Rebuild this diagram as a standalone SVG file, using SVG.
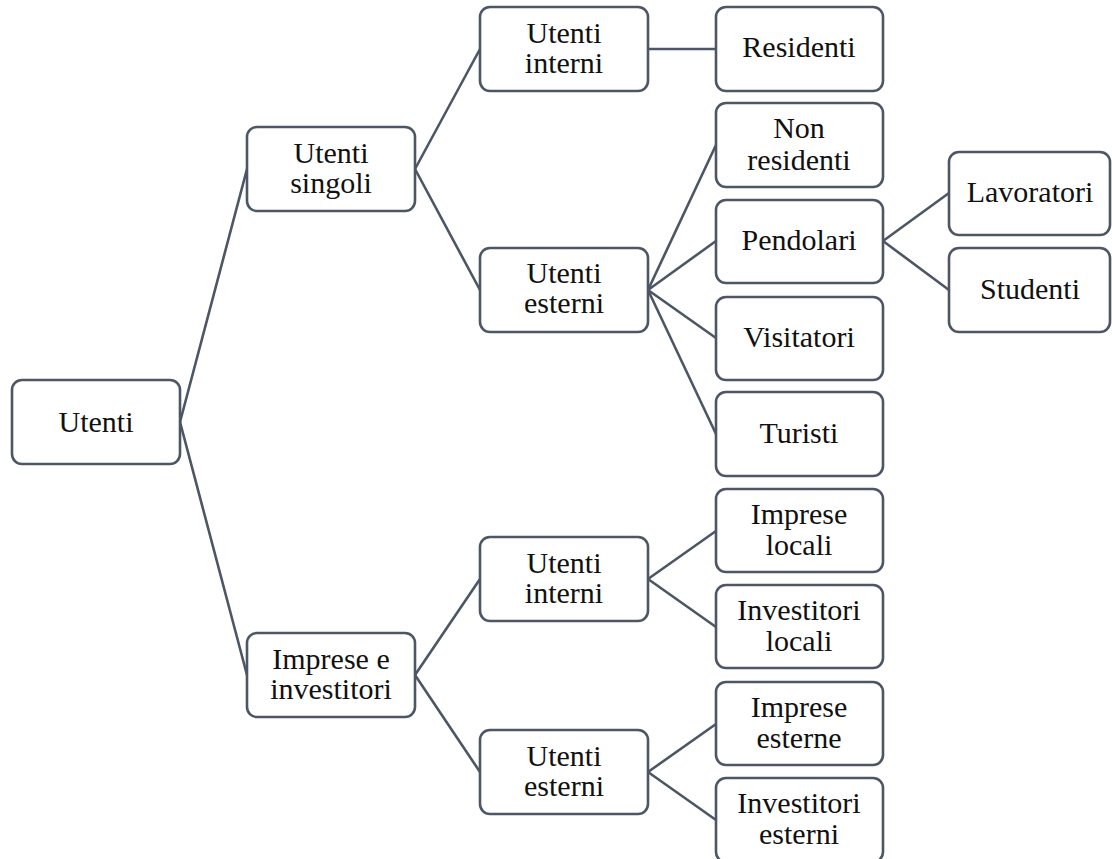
<svg xmlns="http://www.w3.org/2000/svg" width="1112" height="859" viewBox="0 0 1112 859">
  <style>
    .box { fill: #ffffff; stroke: #4d5665; stroke-width: 2.6; }
    .edge { fill: none; stroke: #4d5665; stroke-width: 2.6; stroke-linecap: round; }
    .lbl { font-size: 30px; fill: #111111; text-anchor: middle; }
  </style>
  <rect width="1112" height="859" fill="#ffffff"/>

  <g id="connectors">
    <line class="edge" x1="180" y1="422" x2="247" y2="169"/>
    <line class="edge" x1="180" y1="422" x2="247" y2="675"/>
    <line class="edge" x1="415" y1="169" x2="480" y2="49"/>
    <line class="edge" x1="415" y1="169" x2="480" y2="290"/>
    <line class="edge" x1="648" y1="49" x2="716" y2="49"/>
    <line class="edge" x1="648" y1="290" x2="716" y2="145"/>
    <line class="edge" x1="648" y1="290" x2="716" y2="241"/>
    <line class="edge" x1="648" y1="290" x2="716" y2="338"/>
    <line class="edge" x1="648" y1="290" x2="716" y2="434"/>
    <line class="edge" x1="883" y1="241" x2="949" y2="193"/>
    <line class="edge" x1="883" y1="241" x2="949" y2="290"/>
    <line class="edge" x1="415" y1="675" x2="480" y2="579"/>
    <line class="edge" x1="415" y1="675" x2="480" y2="772"/>
    <line class="edge" x1="648" y1="579" x2="716" y2="531"/>
    <line class="edge" x1="648" y1="579" x2="716" y2="627"/>
    <line class="edge" x1="648" y1="772" x2="716" y2="724"/>
    <line class="edge" x1="648" y1="772" x2="716" y2="820"/>
  </g>

  <g font-family="Liberation Serif, DejaVu Serif, serif">
  <g id="utenti">
    <rect class="box" x="12" y="380" width="168" height="84" rx="10"/>
    <text class="lbl" x="96" y="432">Utenti</text>
  </g>

  <g id="utenti-singoli">
    <rect class="box" x="247" y="127" width="168" height="84" rx="10"/>
    <text class="lbl" x="331" y="163">Utenti</text>
    <text class="lbl" x="331" y="193">singoli</text>
  </g>

  <g id="imprese-investitori">
    <rect class="box" x="247" y="633" width="168" height="84" rx="10"/>
    <text class="lbl" x="331" y="669">Imprese e</text>
    <text class="lbl" x="331" y="699">investitori</text>
  </g>

  <g id="singoli-interni">
    <rect class="box" x="480" y="7" width="168" height="84" rx="10"/>
    <text class="lbl" x="564" y="43">Utenti</text>
    <text class="lbl" x="564" y="73">interni</text>
  </g>

  <g id="singoli-esterni">
    <rect class="box" x="480" y="248" width="168" height="84" rx="10"/>
    <text class="lbl" x="564" y="283">Utenti</text>
    <text class="lbl" x="564" y="313">esterni</text>
  </g>

  <g id="imprese-interni">
    <rect class="box" x="480" y="537" width="168" height="84" rx="10"/>
    <text class="lbl" x="564" y="573">Utenti</text>
    <text class="lbl" x="564" y="603">interni</text>
  </g>

  <g id="imprese-esterni">
    <rect class="box" x="480" y="730" width="168" height="84" rx="10"/>
    <text class="lbl" x="564" y="766">Utenti</text>
    <text class="lbl" x="564" y="796">esterni</text>
  </g>

  <g id="residenti">
    <rect class="box" x="716" y="7" width="167" height="84" rx="10"/>
    <text class="lbl" x="799" y="57">Residenti</text>
  </g>

  <g id="non-residenti">
    <rect class="box" x="716" y="103" width="167" height="84" rx="10"/>
    <text class="lbl" x="799" y="138">Non</text>
    <text class="lbl" x="799" y="170">residenti</text>
  </g>

  <g id="pendolari">
    <rect class="box" x="716" y="200" width="167" height="83" rx="10"/>
    <text class="lbl" x="799" y="250">Pendolari</text>
  </g>

  <g id="visitatori">
    <rect class="box" x="716" y="297" width="167" height="83" rx="10"/>
    <text class="lbl" x="799" y="347">Visitatori</text>
  </g>

  <g id="turisti">
    <rect class="box" x="716" y="392" width="167" height="84" rx="10"/>
    <text class="lbl" x="799" y="443">Turisti</text>
  </g>

  <g id="lavoratori">
    <rect class="box" x="949" y="152" width="161" height="83" rx="10"/>
    <text class="lbl" x="1030" y="202">Lavoratori</text>
  </g>

  <g id="studenti">
    <rect class="box" x="949" y="248" width="161" height="84" rx="10"/>
    <text class="lbl" x="1030" y="299">Studenti</text>
  </g>

  <g id="imprese-locali">
    <rect class="box" x="716" y="489" width="167" height="83" rx="10"/>
    <text class="lbl" x="799" y="524">Imprese</text>
    <text class="lbl" x="799" y="555">locali</text>
  </g>

  <g id="investitori-locali">
    <rect class="box" x="716" y="585" width="167" height="83" rx="10"/>
    <text class="lbl" x="799" y="620">Investitori</text>
    <text class="lbl" x="799" y="651">locali</text>
  </g>

  <g id="imprese-esterne">
    <rect class="box" x="716" y="682" width="167" height="83" rx="10"/>
    <text class="lbl" x="799" y="717">Imprese</text>
    <text class="lbl" x="799" y="748">esterne</text>
  </g>

  <g id="investitori-esterni">
    <rect class="box" x="716" y="778" width="167" height="84" rx="10"/>
    <text class="lbl" x="799" y="813">Investitori</text>
    <text class="lbl" x="799" y="844">esterni</text>
  </g>
  </g>
</svg>
